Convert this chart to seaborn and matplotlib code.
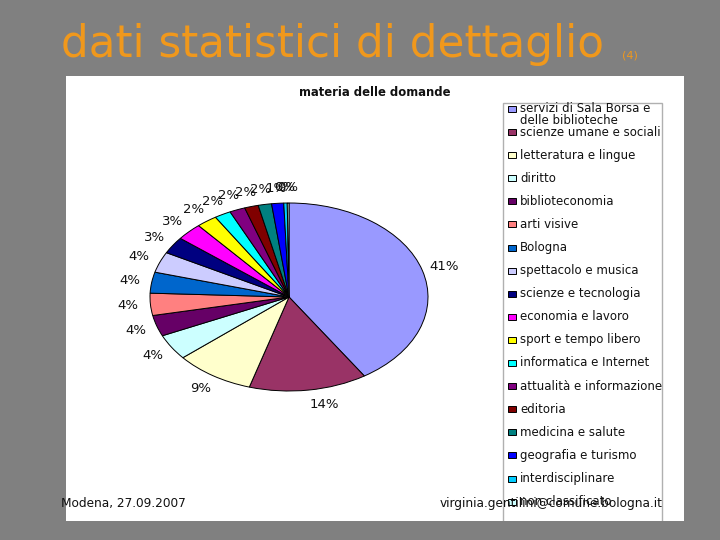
import matplotlib
matplotlib.use('Agg')
import matplotlib.pyplot as plt
import seaborn as sns

CATEGORIES = ["servizi di Sala Borsa e\ndelle biblioteche", "scienze umane e sociali", "letteratura e lingue",
              "diritto", "biblioteconomia", "arti visive", "Bologna", "spettacolo e musica",
              "scienze e tecnologia", "economia e lavoro", "sport e tempo libero", "informatica e Internet",
              "attualità e informazione", "editoria", "medicina e salute", "geografia e turismo",
              "interdisciplinare", "non classificato"]
VALUES = [40.8, 13.7, 9.2, 4.4, 3.6, 3.8, 3.6, 3.55, 2.9, 3.0, 2.4, 1.9, 1.8, 1.6, 1.55, 1.4, 0.4, 0.2]
COLORS = ["#9999FF", "#993366", "#FFFFCC", "#CCFFFF", "#660066", "#FF8080", "#0066CC", "#CCCCFF", "#000080",
          "#FF00FF", "#FFFF00", "#00FFFF", "#800080", "#800000", "#008080", "#0000FF", "#00CCFF", "#CCFFFF"]

W, H = 720, 540
GREY = "#808080"
ORANGE = "#F0981C"

sns.set_theme(style="white", palette=sns.color_palette(COLORS))
plt.rcParams['font.family'] = ['DejaVu Sans']


def box(x0, y0, x1, y1):
    # pixel box from the top left corner -> figure fraction
    return [x0 / W, 1 - y1 / H, (x1 - x0) / W, (y1 - y0) / H]


fig = plt.figure(figsize=(7.2, 5.4), dpi=100, facecolor=GREY)

panel = fig.add_axes(box(66, 76, 684, 521), facecolor="white")
panel.set_xticks([])
panel.set_yticks([])
panel.set_xlim(66, 684)
panel.set_ylim(521, 76)
for s in panel.spines.values():
    s.set_visible(False)

ax = fig.add_axes(box(150, 203, 428, 391))
wedges, _, autotexts = ax.pie(VALUES, colors=sns.color_palette(COLORS), startangle=90, counterclock=False,
                              autopct='%.0f%%', pctdistance=1.16,
                              wedgeprops={'edgecolor': 'black', 'linewidth': 0.7},
                              textprops={'fontsize': 9.5, 'color': '#111111', 'clip_on': False})
ax.set_aspect('auto')
ax.set_xlim(-1, 1)
ax.set_ylim(-1, 1)
# excel pushed this label a bit to the right
autotexts[1].set_x(autotexts[1].get_position()[0] + 0.09)

fig.text(375 / W, 1 - 92 / H, "materia delle domande", ha='center', va='center', fontsize=8.4,
         fontweight='bold', color='#111111')

# legend frame runs off the bottom of the white panel
panel.add_patch(plt.Rectangle((503, 103), 159, 425, facecolor='white', edgecolor='#B0B0B0', linewidth=1.0))

# rows by hand, the wrapped first entry sits tighter than a matplotlib legend allows
for i, (name, col) in enumerate(zip(CATEGORIES, COLORS)):
    y = 109 if i == 0 else 132 + 23.1 * (i - 1)
    text_y = 114.5 if i == 0 else y
    panel.add_patch(plt.Rectangle((508, y - 3), 8, 6, facecolor=col, edgecolor='black', linewidth=0.7))
    panel.text(520, text_y, name, ha='left', va='center', fontsize=8.5, color='#111111', linespacing=0.85)

fig.text(61 / W, 1 - 44 / H, "dati statistici di dettaglio", ha='left', va='center', fontsize=31.5, color=ORANGE)
fig.text(622 / W, 1 - 56 / H, "(4)", ha='left', va='center', fontsize=8, color=ORANGE)
fig.text(61 / W, 1 - 503 / H, "Modena, 27.09.2007", ha='left', va='center', fontsize=8.7, color='#111111')
fig.text(663 / W, 1 - 503 / H, "virginia.gentilini@comune.bologna.it", ha='right', va='center', fontsize=8.7,
         color='#111111')

fig.savefig("out.png", dpi=100, facecolor=GREY)
